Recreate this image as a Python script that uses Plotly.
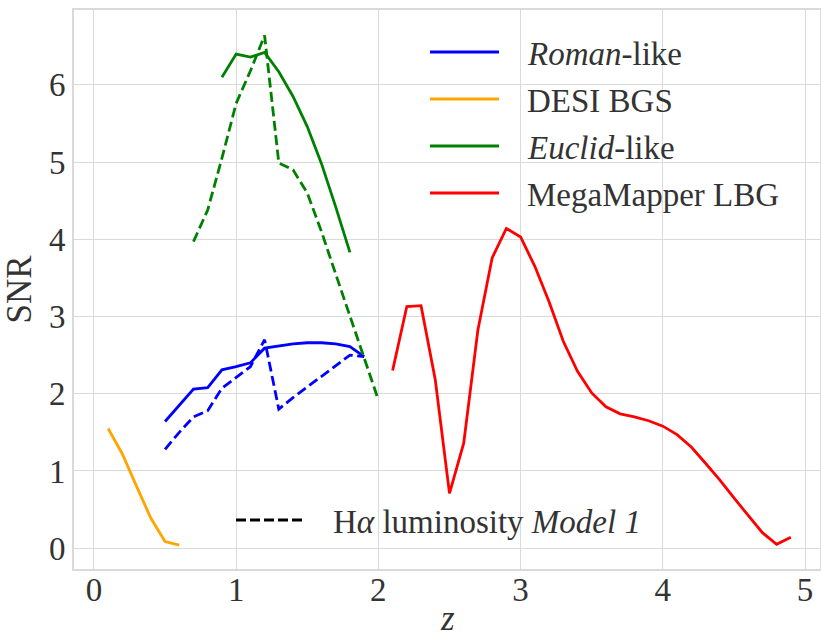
import plotly.graph_objects as go

# ---------------- data ----------------
z_roman = [0.5, 0.6, 0.7, 0.8, 0.9, 1.0, 1.1, 1.2, 1.3, 1.4, 1.5, 1.6, 1.7, 1.8, 1.9]
roman_snr = [1.64, 1.85, 2.06, 2.08, 2.31, 2.35, 2.40, 2.59, 2.62, 2.645, 2.66, 2.66, 2.645, 2.61, 2.48]
roman_snr_m1 = [1.28, 1.50, 1.70, 1.78, 2.07, 2.21, 2.35, 2.70, 1.80, 1.95, 2.09, 2.23, 2.36, 2.50, 2.48]

z_desi = [0.1, 0.2, 0.3, 0.4, 0.5, 0.6]
desi_snr = [1.55, 1.22, 0.80, 0.39, 0.086, 0.04]

z_euclid = [0.9, 1.0, 1.1, 1.2, 1.3, 1.4, 1.5, 1.6, 1.7, 1.8]
euclid_snr = [6.10, 6.40, 6.36, 6.42, 6.17, 5.85, 5.46, 4.98, 4.42, 3.83]
z_euclid_m1 = [0.7, 0.8, 0.9, 1.0, 1.1, 1.2, 1.3, 1.4, 1.5, 1.6, 1.7, 1.8, 1.9, 2.0]
euclid_snr_m1 = [3.97, 4.38, 5.05, 5.76, 6.18, 6.64, 4.99, 4.90, 4.60, 4.10, 3.55, 3.00, 2.45, 1.92]

z_mm = [2.1, 2.2, 2.3, 2.4, 2.5, 2.6, 2.7, 2.8, 2.9, 3.0, 3.1, 3.2, 3.3, 3.4, 3.5,
        3.6, 3.7, 3.8, 3.9, 4.0, 4.1, 4.2, 4.3, 4.4, 4.5, 4.6, 4.7, 4.8, 4.9]
mm_snr = [2.30, 3.13, 3.14, 2.18, 0.71, 1.36, 2.83, 3.76, 4.14, 4.03, 3.65, 3.19, 2.68, 2.29, 2.01,
          1.83, 1.74, 1.70, 1.65, 1.58, 1.47, 1.31, 1.10, 0.885, 0.65, 0.42, 0.20, 0.05, 0.14]

x_ticks = [0, 1, 2, 3, 4, 5]
y_ticks = [0, 1, 2, 3, 4, 5, 6]

legend_labels = ["<i>Roman</i>-like", "DESI BGS", "<i>Euclid</i>-like", "MegaMapper LBG"]
legend_colors = ["#0000ff", "#ffa500", "#008000", "#ff0000"]
model_label = "H<i>α</i> luminosity <i>Model 1</i>"
x_title = "<i>z</i>"
y_title = "SNR"

# ---------------- figure ----------------
FONT = "Liberation Serif"
TXT = "#333333"
GRID = "#dadada"
LW = 2.8
DASH = "10px,4.5px"
FS = 33      # tick labels
LFS = 33     # legend text
TFS = 35     # axis titles

fig = go.Figure()
fig.add_trace(go.Scatter(x=z_roman, y=roman_snr, mode="lines",
                         line=dict(color=legend_colors[0], width=LW), showlegend=False))
fig.add_trace(go.Scatter(x=z_roman, y=roman_snr_m1, mode="lines",
                         line=dict(color=legend_colors[0], width=LW, dash=DASH), showlegend=False))
fig.add_trace(go.Scatter(x=z_desi, y=desi_snr, mode="lines",
                         line=dict(color=legend_colors[1], width=LW), showlegend=False))
fig.add_trace(go.Scatter(x=z_euclid, y=euclid_snr, mode="lines",
                         line=dict(color=legend_colors[2], width=LW), showlegend=False))
fig.add_trace(go.Scatter(x=z_euclid_m1, y=euclid_snr_m1, mode="lines",
                         line=dict(color=legend_colors[2], width=LW, dash=DASH), showlegend=False))
fig.add_trace(go.Scatter(x=z_mm, y=mm_snr, mode="lines",
                         line=dict(color=legend_colors[3], width=LW), showlegend=False))

# plot area in pixels: x 74..820, y 10..569
L, R, T, B = 74, 1, 10, 71
W, H = 821, 640
PW, PH = W - L - R, H - T - B


def px(x):
    return (x - L) / PW


def py(y):
    return (H - B - y) / PH


shapes = []
annotations = []
leg_y = [52, 99, 146, 193]
for lab, col, yy in zip(legend_labels, legend_colors, leg_y):
    shapes.append(dict(type="line", xref="paper", yref="paper",
                       x0=px(430), x1=px(499), y0=py(yy), y1=py(yy),
                       line=dict(color=col, width=LW)))
    annotations.append(dict(text=lab, xref="paper", yref="paper", x=px(525), y=py(yy + 2),
                            xanchor="left", yanchor="middle", showarrow=False,
                            font=dict(family=FONT, size=LFS, color=TXT)))

shapes.append(dict(type="line", xref="paper", yref="paper",
                   x0=px(236), x1=px(305), y0=py(520), y1=py(520),
                   line=dict(color="black", width=LW, dash="10px,4px")))
annotations.append(dict(text=model_label, xref="paper", yref="paper", x=px(331), y=py(522),
                        xanchor="left", yanchor="middle", showarrow=False,
                        font=dict(family=FONT, size=LFS, color=TXT)))

# x-axis title placed below the tick labels
annotations.append(dict(text=x_title, xref="paper", yref="paper", x=0.5, y=py(640),
                        xanchor="center", yanchor="bottom", showarrow=False,
                        font=dict(family=FONT, size=TFS, color=TXT)))

axis_common = dict(showgrid=True, gridcolor=GRID, gridwidth=1.3, zeroline=False,
                   showline=True, linecolor=GRID, linewidth=1.6, mirror=True,
                   ticks="", tickfont=dict(family=FONT, size=FS, color=TXT),
                   automargin=False)

fig.update_layout(
    width=W, height=H,
    margin=dict(l=L, r=R, t=T, b=B, pad=0),
    paper_bgcolor="white", plot_bgcolor="white",
    showlegend=False,
    xaxis=dict(range=[-0.14, 5.105], tickvals=x_ticks, ticktext=[str(v) for v in x_ticks],
               ticklabelstandoff=-9, **axis_common),
    yaxis=dict(range=[-0.27, 6.97], tickvals=y_ticks, ticktext=[str(v) for v in y_ticks],
               ticklabelstandoff=0,
               title=dict(text=y_title, font=dict(family=FONT, size=TFS, color=TXT), standoff=8),
               **axis_common),
    shapes=shapes,
    annotations=annotations,
)

fig.write_html("out.html")
